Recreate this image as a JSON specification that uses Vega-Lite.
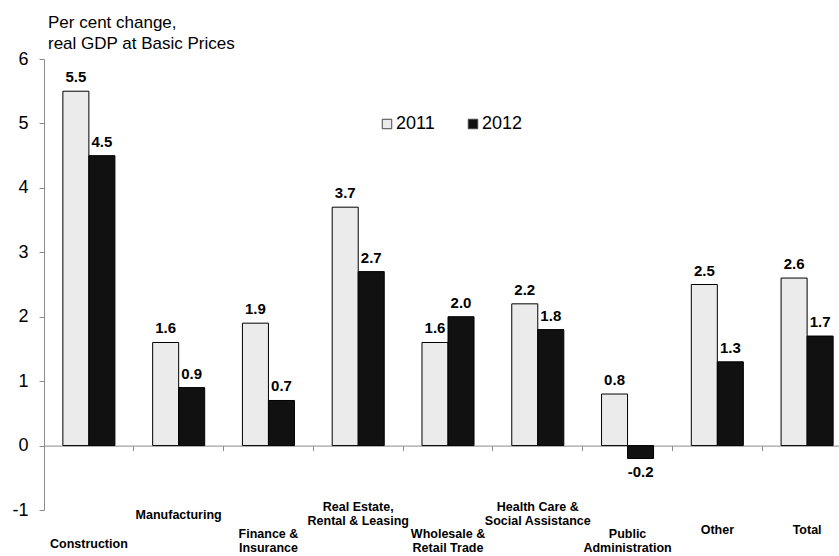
{
  "$schema": "https://vega.github.io/schema/vega-lite/v6.json",
  "width": 795,
  "height": 451,
  "autosize": "none",
  "padding": {"left": 44, "top": 59, "right": 0, "bottom": 46},
  "background": "white",
  "config": {
    "font": "Liberation Sans",
    "view": {"stroke": null},
    "locale": {"number": {"decimal": ".", "thousands": ",", "grouping": [3], "currency": ["$", ""], "minus": "-"}},
    "legend": {"symbolStrokeColor": "#444", "symbolStrokeWidth": 1}
  },
  "title": {
    "text": ["Per cent change,", "real GDP at Basic Prices"],
    "anchor": "start",
    "frame": "group",
    "font": "Liberation Sans",
    "fontSize": 17,
    "fontWeight": "normal",
    "color": "#000",
    "lineHeight": 21,
    "dx": 4,
    "offset": -3
  },
  "data": {
    "values": [
      {"sector": "Construction", "year": "2011", "change": 5.5},
      {"sector": "Construction", "year": "2012", "change": 4.5},
      {"sector": "Manufacturing", "year": "2011", "change": 1.6},
      {"sector": "Manufacturing", "year": "2012", "change": 0.9},
      {"sector": "Finance & Insurance", "year": "2011", "change": 1.9},
      {"sector": "Finance & Insurance", "year": "2012", "change": 0.7},
      {"sector": "Real Estate, Rental & Leasing", "year": "2011", "change": 3.7},
      {"sector": "Real Estate, Rental & Leasing", "year": "2012", "change": 2.7},
      {"sector": "Wholesale & Retail Trade", "year": "2011", "change": 1.6},
      {"sector": "Wholesale & Retail Trade", "year": "2012", "change": 2.0},
      {"sector": "Health Care & Social Assistance", "year": "2011", "change": 2.2},
      {"sector": "Health Care & Social Assistance", "year": "2012", "change": 1.8},
      {"sector": "Public Administration", "year": "2011", "change": 0.8},
      {"sector": "Public Administration", "year": "2012", "change": -0.2},
      {"sector": "Other", "year": "2011", "change": 2.5},
      {"sector": "Other", "year": "2012", "change": 1.3},
      {"sector": "Total", "year": "2011", "change": 2.6},
      {"sector": "Total", "year": "2012", "change": 1.7}
    ]
  },
  "encoding": {
    "x": {
      "field": "sector",
      "type": "nominal",
      "sort": null,
      "scale": {"range": [0, 808], "paddingInner": 0, "paddingOuter": 0},
      "axis": {
        "title": null,
        "offset": -64.4,
        "domainColor": "#8c8c8c",
        "tickColor": "#8c8c8c",
        "tickSize": 5,
        "bandPosition": 0,
        "labelAngle": 0,
        "labelFont": "Liberation Sans",
        "labelFontSize": 12.5,
        "labelFontWeight": "bold",
        "labelColor": "#000",
        "labelPadding": {
          "condition": [
            {"test": "datum.value == 'Construction'", "value": 87},
            {"test": "datum.value == 'Manufacturing'", "value": 58},
            {"test": "datum.value == 'Real Estate, Rental & Leasing' || datum.value == 'Health Care & Social Assistance'", "value": 49.5},
            {"test": "datum.value == 'Other' || datum.value == 'Total'", "value": 73}
          ],
          "value": 77
        },
        "labelLineHeight": 14,
        "labelBaseline": "top",
        "labelOverlap": false,
        "labelExpr": "datum.value == 'Finance & Insurance' ? ['Finance &', 'Insurance'] : datum.value == 'Real Estate, Rental & Leasing' ? ['Real Estate,', 'Rental & Leasing'] : datum.value == 'Wholesale & Retail Trade' ? ['Wholesale &', 'Retail Trade'] : datum.value == 'Health Care & Social Assistance' ? ['Health Care &', 'Social Assistance'] : datum.value == 'Public Administration' ? ['Public', 'Administration'] : datum.label"
      }
    },
    "xOffset": {
      "field": "year",
      "type": "nominal",
      "scale": {"paddingInner": 0, "paddingOuter": 0.725}
    },
    "y": {
      "field": "change",
      "type": "quantitative",
      "scale": {"domain": [-1, 6], "nice": false, "zero": false},
      "axis": {
        "title": null,
        "values": [-1, 0, 1, 2, 3, 4, 5, 6],
        "grid": false,
        "domainColor": "#8c8c8c",
        "tickColor": "#8c8c8c",
        "tickSize": 5,
        "labelFont": "Liberation Sans",
        "labelFontSize": 18,
        "labelColor": "#000",
        "labelPadding": 11
      }
    }
  },
  "layer": [
    {
      "mark": {"type": "bar", "stroke": "#000", "strokeWidth": 1},
      "encoding": {
        "y2": {"datum": 0},
        "fill": {
          "field": "year",
          "type": "nominal",
          "scale": {"range": ["#ebebeb", "#111111"]},
          "legend": {
            "title": null,
            "orient": "none",
            "direction": "horizontal",
            "legendX": 334,
            "legendY": 56,
            "padding": 0,
            "symbolType": "square",
            "symbolSize": 90,
            "labelFont": "Liberation Sans",
            "labelFontSize": 18,
            "labelColor": "#000",
            "labelOffset": 0,
            "columnPadding": 29
          }
        }
      }
    },
    {
      "transform": [{"filter": "datum.change >= 0"}],
      "mark": {"type": "text", "baseline": "bottom", "dy": -6, "fontSize": 15, "fontWeight": "bold", "font": "Liberation Sans", "color": "#000"},
      "encoding": {
        "text": {"field": "change", "type": "quantitative", "format": ".1f"}
      }
    },
    {
      "transform": [{"filter": "datum.change < 0"}],
      "mark": {"type": "text", "baseline": "top", "dy": 7, "fontSize": 15, "fontWeight": "bold", "font": "Liberation Sans", "color": "#000"},
      "encoding": {
        "text": {"field": "change", "type": "quantitative", "format": ".1f"}
      }
    }
  ]
}
